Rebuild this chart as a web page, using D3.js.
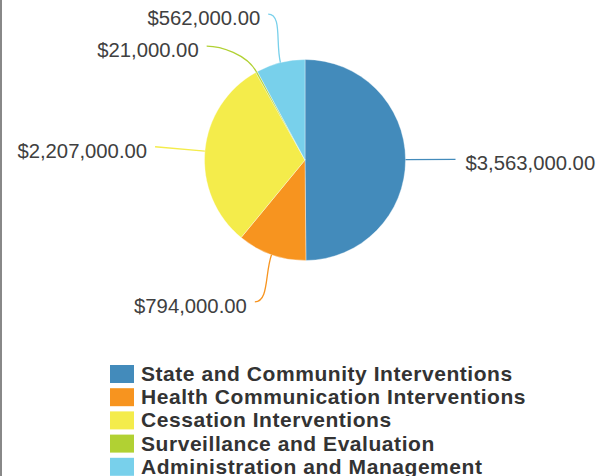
<!DOCTYPE html>
<html>
<head>
<meta charset="utf-8">
<script src="https://cdn.jsdelivr.net/npm/d3@7/dist/d3.min.js"></script>
<style>
  html, body { margin: 0; padding: 0; background: #fff; }
  svg { display: block; }
</style>
</head>
<body>
<div id="chart"></div>
<script>
// Program budget by category
const categories = [
  "State and Community Interventions",
  "Health Communication Interventions",
  "Cessation Interventions",
  "Surveillance and Evaluation",
  "Administration and Management"
];
const amounts = [3563000, 794000, 2207000, 21000, 562000];
const colors = ["#438bbb", "#f7941f", "#f4ec4b", "#b1d133", "#78d0eb"];

const W = 607, H = 476;
const cx = 305, cy = 160, r = 100.5;
const labelR = r + 50;      // ring where the leader lines end
const minGap = 32;          // minimum vertical distance between labels on one side

const svg = d3.select("#chart").append("svg")
  .attr("width", W).attr("height", H);

// left frame edge
svg.append("rect").attr("x", 0).attr("y", 0).attr("width", 2).attr("height", H).attr("fill", "#888");

const data = categories.map((c, i) => ({ name: c, value: amounts[i], color: colors[i] }));

const pie = d3.pie().value(d => d.value).sort(null);
const arcs = pie(data);
const arc = d3.arc().innerRadius(0).outerRadius(r);

const g = svg.append("g").attr("transform", `translate(${cx},${cy})`);

g.selectAll("path.slice").data(arcs).enter().append("path")
  .attr("class", "slice")
  .attr("d", arc)
  .attr("fill", d => d.data.color)
  .attr("stroke", "#fff")
  .attr("stroke-width", 0.6)
  .attr("stroke-opacity", 0.6);

// label anchor layout
const labels = arcs.map(a => {
  const m = (a.startAngle + a.endAngle) / 2;
  const dir = [Math.sin(m), -Math.cos(m)];
  return {
    a, m, dir,
    sx: dir[0] * r, sy: dir[1] * r,
    ex: dir[0] * labelR, ey: dir[1] * labelR,
    side: dir[0] >= 0 ? 1 : -1
  };
});

// push overlapping labels apart on each side, then put them back on the ring
[1, -1].forEach(side => {
  const group = labels.filter(l => l.side === side).sort((p, q) => p.ey - q.ey);
  for (let i = 1; i < group.length; i++) {
    if (group[i].ey < group[i - 1].ey + minGap) group[i].ey = group[i - 1].ey + minGap;
  }
  group.forEach(l => {
    const yy = Math.max(-labelR, Math.min(labelR, l.ey));
    l.ex = side * Math.sqrt(labelR * labelR - yy * yy);
  });
});

const fmt = d3.format("$,.2f");

labels.forEach(l => {
  const c1x = l.sx + l.dir[0] * 20, c1y = l.sy + l.dir[1] * 20;
  const c2x = l.ex - l.side * 14, c2y = l.ey;
  const straight = Math.abs(l.dir[1]) < 0.2;
  const d = straight
    ? `M${l.sx},${l.sy}L${l.ex},${l.ey}`
    : `M${l.sx},${l.sy}C${c1x},${c1y} ${c2x},${c2y} ${l.ex},${l.ey}`;
  g.append("path")
    .attr("d", d)
    .attr("fill", "none")
    .attr("stroke", l.a.data.color)
    .attr("stroke-width", 1.3);

  g.append("text")
    .attr("x", l.ex + l.side * (l.side > 0 ? 10 : 8))
    .attr("y", l.ey + 11)
    .attr("text-anchor", l.side > 0 ? "start" : "end")
    .attr("font-family", "'Liberation Sans', Arial, sans-serif")
    .attr("font-size", 20.3)
    .attr("fill", "#404040")
    .text(fmt(l.a.data.value));
});

// legend
const legend = svg.append("g").attr("transform", "translate(110,365)");
const rowH = 23.2;
const rows = legend.selectAll("g").data(data).enter().append("g")
  .attr("transform", (d, i) => `translate(0,${i * rowH})`);
rows.append("rect")
  .attr("width", 24).attr("height", 18)
  .attr("fill", d => d.color);
rows.append("text")
  .attr("x", 31).attr("y", 16)
  .attr("font-family", "'Liberation Sans', Arial, sans-serif")
  .attr("font-weight", "bold")
  .attr("font-size", 21)
  .attr("letter-spacing", 0.55)
  .attr("fill", "#333")
  .text(d => d.name);
</script>
</body>
</html>
